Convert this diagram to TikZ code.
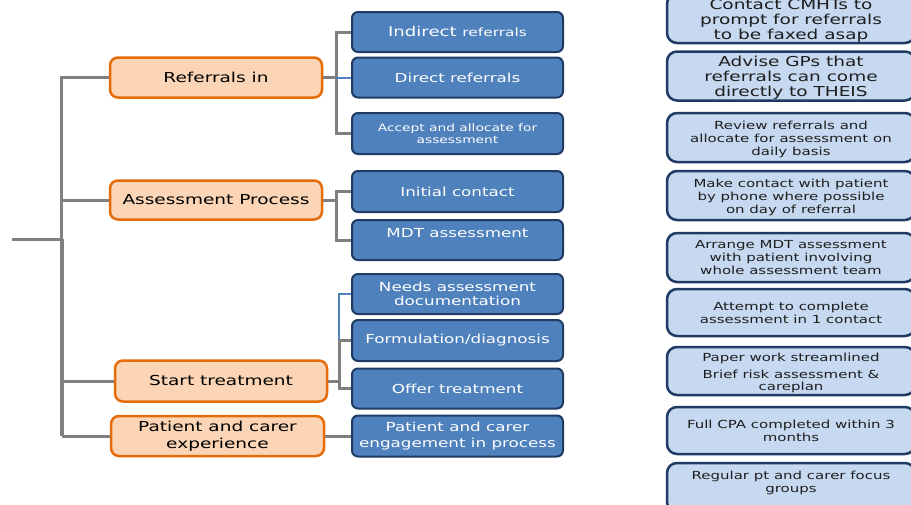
\documentclass[tikz,border=0pt]{standalone}
\usepackage{fontspec}
\setmainfont[FakeStretch=1.35]{DejaVu Sans}
\usetikzlibrary{calc}
\definecolor{orfill}{HTML}{FBD5B5}
\definecolor{ordraw}{HTML}{E46C0A}
\definecolor{blfill}{HTML}{4F81BD}
\definecolor{bldraw}{HTML}{1F3B63}
\definecolor{ltfill}{HTML}{C6D9F1}
\definecolor{ltdraw}{HTML}{1F3B63}
\definecolor{conngray}{HTML}{808080}
\definecolor{txtdark}{HTML}{1E1E1E}
\newcommand{\rtxt}[2][2.5pt]{\raisebox{-#1}[\height][\depth]{\begin{tabular}{@{}c@{}}#2\end{tabular}}}
\tikzset{
  orbox/.style={draw=ordraw, fill=orfill, line width=2.5pt, rounded corners=8pt,
    minimum width=212pt, minimum height=40pt, inner sep=2pt, align=center,
    text=black, font=\fontsize{13.7}{17}\selectfont},
  blbox/.style={draw=bldraw, fill=blfill, line width=2pt, rounded corners=6pt,
    minimum width=211pt, minimum height=40pt, inner sep=2pt, align=center,
    text=white, font=\fontsize{12.4}{14}\selectfont},
  ltbox/.style={draw=ltdraw, fill=ltfill, line width=2.5pt, rounded corners=10pt,
    minimum width=248pt, inner sep=2pt, align=center,
    text=txtdark, font=\fontsize{11.1}{12.6}\selectfont},
  ltbig/.style={ltbox, font=\fontsize{13.7}{15}\selectfont},
  conn/.style={draw=conngray, line width=3pt},
  bconn/.style={draw=blfill, line width=2pt},
}
\begin{document}
\begin{tikzpicture}[x=1pt, y=-1pt]
\clip (0,0) rectangle (911,504);
\fill[white] (0,0) rectangle (911,504);

% orange nodes
\node[orbox] (ref) at (216,77.5) {Referrals in};
\node[orbox, minimum height=39pt] (ass) at (216,200) {Assessment Process};
\node[orbox, minimum height=41pt] (start) at (221,381) {Start treatment};
\node[orbox, minimum width=213pt] (pat) at (217.5,436) {Patient and carer\\experience};

% blue nodes
\node[blbox] (ind) at (457.5,32) {\fontsize{13.4}{15}\selectfont Indirect {\fontsize{11.4}{13}\selectfont referrals}};
\node[blbox] (dir) at (457.5,77.5) {Direct referrals};
\node[blbox, minimum height=41pt, font=\fontsize{10.2}{11.5}\selectfont] (acc) at (457.5,133.5) {Accept and allocate for\\assessment};
\node[blbox, minimum height=41pt] (ini) at (457.5,191.5) {Initial contact};
\node[blbox] (mdt) at (457.5,240) {\raisebox{7pt}[\height][\depth]{MDT assessment}};
\node[blbox] (need) at (457.5,294) {Needs assessment\\documentation};
\node[blbox, minimum height=41pt] (form) at (457.5,340.5) {Formulation/diagnosis};
\node[blbox] (offer) at (457.5,388.5) {Offer treatment};
\node[blbox, minimum height=41pt, font=\fontsize{12.4}{16}\selectfont] (peng) at (457.5,436) {Patient and carer\\engagement in process};

% right column
\node[ltbig, minimum height=48pt] (r1) at (791,18.5) {\rtxt[2.5pt]{Contact CMHTs to\\prompt for referrals\\to be faxed asap}};
\node[ltbig, minimum height=48pt] (r2) at (791,76) {\rtxt[2.5pt]{Advise GPs that\\referrals can come\\directly to THEIS}};
\node[ltbox, minimum height=49pt] (r3) at (791,137.5) {\rtxt{Review referrals and\\allocate for assessment on\\daily basis}};
\node[ltbox, minimum height=49pt] (r4) at (791,195.5) {\rtxt{Make contact with patient\\by phone where possible\\on day of referral}};
\node[ltbox, minimum height=49pt] (r5) at (791,257.5) {\rtxt[1.5pt]{Arrange MDT assessment\\with patient involving\\whole assessment team}};
\node[ltbox, minimum height=47pt] (r6) at (791,312.5) {\rtxt[2pt]{Attempt to complete\\assessment in 1 contact}};
\node[ltbox, minimum height=48pt] (r7) at (791,371) {\rtxt[2.5pt]{Paper work streamlined\\[4.5pt]Brief risk assessment \&\\careplan}};
\node[ltbox, minimum height=47pt] (r8) at (791,430.5) {\rtxt[2pt]{Full CPA completed within 3\\months}};
\node[ltbox, minimum height=49pt] (r9) at (791,487.5) {\rtxt[-4pt]{Regular pt and carer focus\\groups}};

% trunk
\coordinate (st) at (12,239);
\coordinate (tr) at (61,239);
\coordinate (b1) at (336,0);
\coordinate (b2) at (339,0);
\draw[conn] (st) -- (tr);
\draw[conn] (ref.west) -| (tr);
\draw[conn] (ass.west) -- (ass.west -| tr);
\draw[conn, line width=4pt] ([xshift=1pt]tr) -- ([xshift=1pt]tr |- pat.west);
\draw[conn] (start.west) -- ([xshift=1pt]tr |- start.west);
\draw[conn] (pat.west) -- ([xshift=1pt]tr |- pat.west);

% referrals bracket
\draw[conn] (ref.east) -- (b1 |- ref.east);
\draw[conn] (ind.west) -| (b1 |- acc.west) -- (acc.west);
\draw[bconn] (b1 |- dir.west) -- (dir.west);

% assessment bracket
\draw[conn] (ass.east) -- (b1 |- ass.east);
\draw[conn] (ini.west) -| (b1 |- mdt.west) -- (mdt.west);

% start treatment bracket
\draw[conn] (start.east) -- (b2 |- start.east);
\draw[bconn] (need.west) -| (b2 |- form.west);
\draw[conn] (form.west) -| (b2 |- offer.west) -- (offer.west);

% patient
\draw[conn] (pat.east) -- (peng.west);
\end{tikzpicture}
\end{document}
